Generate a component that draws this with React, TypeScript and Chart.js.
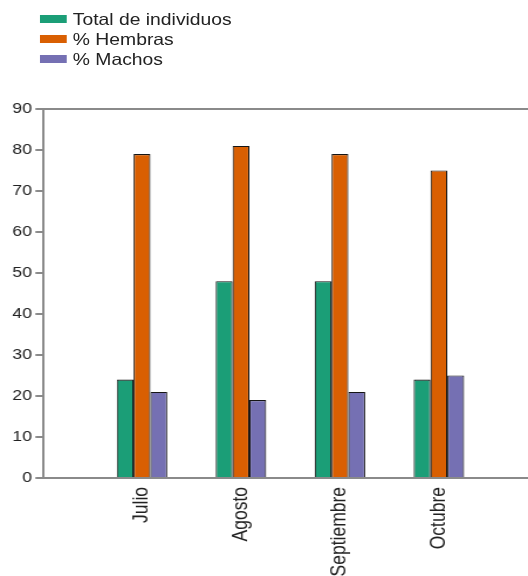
import React, { useEffect, useRef } from 'react';
import { Chart, registerables } from 'chart.js';

Chart.register(...registerables);

const months = ['Julio', 'Agosto', 'Septiembre', 'Octubre'];
const monthPositions = [1, 2, 3, 4];
const seriesNames = ['Total de individuos', '% Hembras', '% Machos'];
const totalIndividuos = [24, 48, 48, 24];
const pctHembras = [79, 81, 79, 75];
const pctMachos = [21, 19, 21, 25];
const yMin = 0;
const yMax = 90;
const yStep = 10;
const colors = ['#1b9e77', '#d95f02', '#7570b3'];

const INNER_W = 451;
const INNER_H = 576;
const STRETCH = 528 / INNER_W;
const FONT = '"Liberation Sans", Arial, Helvetica, sans-serif';

export default function App() {
  const canvasRef = useRef<HTMLCanvasElement | null>(null);

  useEffect(() => {
    document.documentElement.style.overflow = 'hidden';
    const canvas = canvasRef.current;
    if (!canvas) return;
    const seriesValues = [totalIndividuos, pctHembras, pctMachos];
    const chart = new Chart(canvas, {
      type: 'bar',
      data: {
        datasets: seriesValues.map((vals, si) => ({
          label: seriesNames[si],
          data: monthPositions.map((x, i) => ({ x, y: vals[i] })),
          backgroundColor: colors[si],
          borderColor: '#151515',
          borderWidth: 1.1,
          barPercentage: 1,
          categoryPercentage: 0.51,
        })),
      },
      options: {
        responsive: false,
        animation: false,
        layout: { padding: { top: 109, left: 0, right: 0, bottom: 0 } },
        plugins: {
          legend: { display: false },
          tooltip: { enabled: false },
        },
        scales: {
          x: {
            type: 'linear',
            min: 0,
            max: 4.9,
            offset: false,
            grid: { display: false, offset: false },
            border: { display: true, color: '#8a8a8a', width: 2 },
            ticks: {
              stepSize: 1,
              includeBounds: false,
              autoSkip: false,
              minRotation: 90,
              maxRotation: 90,
              padding: 1,
              color: '#222',
              font: { family: FONT, size: 17.5 },
              callback: (value: any) => {
                const i = monthPositions.indexOf(Number(value));
                return i >= 0 ? months[i] : '';
              },
            },
            afterFit: (scale: any) => {
              scale.height = 98;
            },
          },
          y: {
            type: 'linear',
            min: yMin,
            max: yMax,
            grid: {
              display: true,
              drawOnChartArea: true,
              drawTicks: true,
              tickLength: 6.5,
              lineWidth: 2,
              tickColor: '#8a8a8a',
              color: (ctx: any) =>
                ctx.tick && ctx.tick.value === yMax ? '#8a8a8a' : 'rgba(0,0,0,0)',
            },
            border: { display: true, color: '#8a8a8a', width: 2 },
            ticks: {
              stepSize: yStep,
              padding: 3,
              color: '#222',
              font: { family: FONT, size: 15 },
            },
            afterFit: (scale: any) => {
              scale.width = 36.75;
            },
          },
        },
      },
    });
    return () => chart.destroy();
  }, []);

  return (
    <div
      style={{
        position: 'absolute',
        left: 0,
        top: 0,
        width: INNER_W,
        height: INNER_H,
        transform: `scaleX(${STRETCH})`,
        transformOrigin: '0 0',
        background: '#fff',
      }}
    >
      <canvas
        ref={canvasRef}
        width={INNER_W}
        height={INNER_H}
        style={{ position: 'absolute', left: 0, top: 0, width: INNER_W, height: INNER_H }}
      />
      {seriesNames.map((name, i) => (
        <div
          key={name}
          style={{
            position: 'absolute',
            left: 34.2,
            top: 9 + i * 20,
            height: 20,
            display: 'flex',
            alignItems: 'center',
            fontFamily: FONT,
            fontSize: 16.5,
            color: '#222',
            whiteSpace: 'nowrap',
          }}
        >
          <span
            style={{
              display: 'inline-block',
              width: 23,
              height: 8,
              background: colors[i],
              marginRight: 5,
            }}
          />
          <span>{name}</span>
        </div>
      ))}
    </div>
  );
}
